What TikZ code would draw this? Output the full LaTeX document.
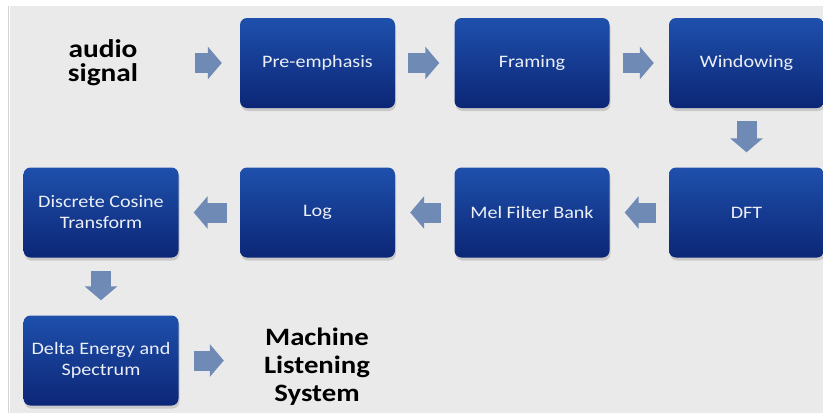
\documentclass[tikz,border=0pt]{standalone}
\usepackage{fontspec}
\usepackage{tikz}
\usetikzlibrary{arrows.meta,shadows}
\newfontfamily\flowfont[FakeStretch=1.15]{Carlito}
\definecolor{PageGray}{RGB}{234,234,234}
\definecolor{EdgeGray}{RGB}{212,212,212}
\definecolor{BoxTop}{RGB}{30,80,172}
\definecolor{BoxBottom}{RGB}{12,38,118}
\definecolor{ArrowBlue}{RGB}{112,138,182}
\definecolor{LabelWhite}{RGB}{236,239,246}
\tikzset{
  stage/.style ={rectangle, rounded corners=7pt, minimum width=155pt, minimum height=90pt,
                 top color=BoxTop, bottom color=BoxBottom, draw=none, text=LabelWhite,
                 align=center, font=\flowfont\fontsize{17.5}{21}\selectfont, inner sep=2pt,
                 drop shadow={shadow xshift=1pt, shadow yshift=-3pt, opacity=.3}},
  endtxt/.style={align=center, inner sep=0pt, text=black,
                 font=\flowfont\bfseries\fontsize{25.5}{24}\selectfont},
  flow/.style  ={-{Triangle[length=14pt,width=32pt]}, draw=ArrowBlue, line width=20pt,
                 shorten <=13pt, shorten >=15pt},
}
\begin{document}
\begin{tikzpicture}[x=1pt,y=-1pt]
  \useasboundingbox (0,0) rectangle (823,418);
  \fill[PageGray] (10,6) rectangle (823,413);
  \draw[EdgeGray] (8,6) -- (8,413);

  % top row
  \node[endtxt] (audio) at (103,63) {audio\\signal};
  \node[stage] (pre)  at (317.5,63) {Pre-emphasis};
  \node[stage] (fram) at (532,63)   {Framing};
  \node[stage] (win)  at (746.5,63) {Windowing};

  % middle row, right to left
  \node[stage] (dft) at (746.5,212.5) {DFT};
  \node[stage] (mel) at (532,212.5)   {Mel Filter Bank};
  \node[stage] (log) at (317.5,212.5) {Log};
  \node[stage] (dct) at (101,212.5)   {Discrete Cosine\\Transform};

  % bottom row
  \node[stage] (delta) at (101,360.5) {Delta Energy and\\Spectrum};
  \node[endtxt, font=\flowfont\bfseries\fontsize{25}{28}\selectfont] (mls) at (317,367)
    {Machine\\Listening\\System};

  \foreach \a/\b in {pre/fram,fram/win,win/dft,dft/mel,mel/log,log/dct,dct/delta}
    \draw[flow] (\a) -- (\b);
  \draw[flow, shorten <=57pt, shorten >=18pt] (audio) -- (pre);
  \draw[flow, shorten <=15pt, shorten >=40pt] (delta) -- (delta -| mls.west);
\end{tikzpicture}
\end{document}
